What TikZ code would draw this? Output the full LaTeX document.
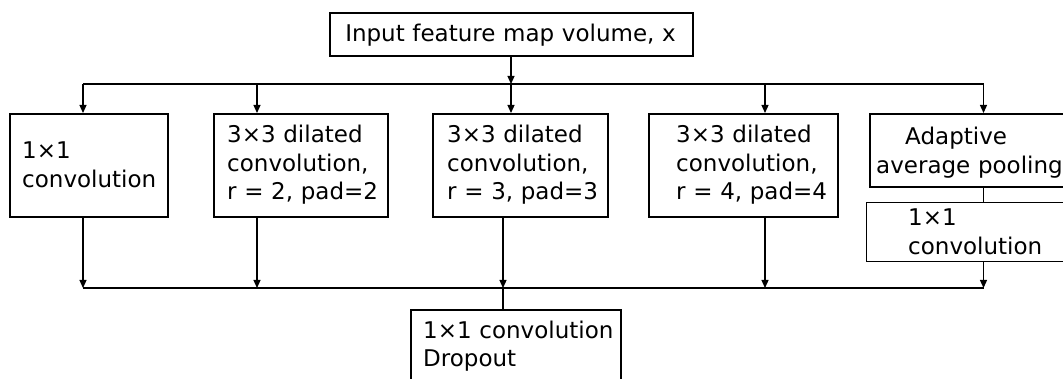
\documentclass[tikz,border=0pt]{standalone}
\usepackage{fontspec}
\setmainfont{DejaVu Sans}
\usetikzlibrary{arrows.meta}
\begin{document}
\begin{tikzpicture}[x=1pt,y=-1pt,
  box/.style={draw,line width=1.9pt,inner sep=0pt,anchor=north west},
  thinbox/.style={draw,line width=1.2pt,inner sep=0pt,anchor=north west},
  txt/.style={inner sep=0pt,anchor=base west,align=left,text width=#1,font=\fontsize{23}{28.5}\selectfont},
  ctxt/.style={inner sep=0pt,anchor=base,align=center,text width=#1,font=\fontsize{23}{28.5}\selectfont},
  conn/.style={line width=1.2pt},
  arr/.style={conn,-{Triangle[length=8pt,width=7pt]}}]
\clip (0,0) rectangle (1063,379);
% boxes
\node[box,minimum width=363pt,minimum height=43pt] (in) at (329,12) {};
\node[box,minimum width=158pt,minimum height=103pt] (b1) at (9,113) {};
\node[box,minimum width=174pt,minimum height=103pt] (b2) at (213,113) {};
\node[box,minimum width=175pt,minimum height=103pt] (b3) at (432,113) {};
\node[box,minimum width=189pt,minimum height=103pt] (b4) at (648,113) {};
\node[box,minimum width=206pt,minimum height=73pt] (b5) at (869,113) {};
\node[thinbox,minimum width=209pt,minimum height=59pt] (b6) at (866,202) {};
\node[box,minimum width=210pt,minimum height=86pt] (out) at (410,309) {};
% texts
\node[ctxt=360pt] (tin) at (510.5,42) {Input feature map volume, x};
\node[txt=150pt] (t1) at (22,159) {1×1\\convolution};
\node[txt=160pt] (t2) at (227,143) {3×3 dilated\\convolution,\\r = 2, pad=2};
\node[txt=160pt] (t3) at (447,143) {3×3 dilated\\convolution,\\r = 3, pad=3};
\node[txt=160pt] (t4) at (676,143) {3×3 dilated\\convolution,\\r = 4, pad=4};
\node[txt=220pt] (t5) at (876,145) {\hspace*{29pt}Adaptive\\average pooling};
\node[txt=160pt] (t6) at (908,226) {1×1\\convolution};
\node[txt=200pt] (t7) at (423,338) {1×1 convolution\\Dropout};
% junctions
\coordinate (s1) at (83,84);
\coordinate (s2) at (257,84);
\coordinate (s3) at (511,84);
\coordinate (s4) at (765,84);
\coordinate (s5) at (983.5,84);
\coordinate (m1) at (83,288);
\coordinate (m2) at (257,288);
\coordinate (m3) at (503,288);
\coordinate (m4) at (765,288);
\coordinate (m5) at (983.5,288);
% connectors
\draw[arr] (in.south -| s3) -- (s3);
\draw[conn] (s1) -- (s5);
\foreach \i/\b in {1/b1,2/b2,3/b3,4/b4,5/b5}
  \draw[arr] (s\i) -- (s\i |- \b.north);
\foreach \i/\b in {1/b1,2/b2,3/b3,4/b4,5/b6}
  \draw[arr] (\b.south -| m\i) -- (m\i);
\draw[conn] (m1) -- (m5);
\draw[conn] (b5.south -| s5) -- (b6.north -| s5);
\draw[conn] (m3) -- (m3 |- out.north);
\end{tikzpicture}
\end{document}
